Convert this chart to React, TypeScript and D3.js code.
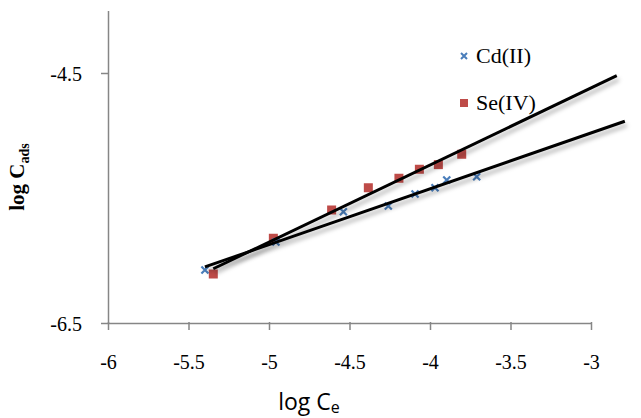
import React, { useEffect, useRef } from "react";
import * as d3 from "d3";

const W = 641;
const H = 418;
const MARGIN = { top: 10.5, right: 50, bottom: 95, left: 108 };
const SERIF = "'Liberation Serif', 'Times New Roman', serif";

// Cd(II) measurements
const cdX = [-5.398, -4.957, -4.538, -4.259, -4.093, -3.969, -3.896, -3.71];
const cdY = [-6.076, -5.852, -5.61, -5.564, -5.468, -5.418, -5.356, -5.33];
// Se(IV) measurements
const seX = [-5.346, -4.973, -4.611, -4.383, -4.193, -4.066, -3.948, -3.803];
const seY = [-6.108, -5.822, -5.596, -5.418, -5.342, -5.27, -5.233, -5.15];

const xTicks = [-6, -5.5, -5, -4.5, -4, -3.5, -3];
const yTicks = [-6.5, -4.5];
// trendline forward forecast end
const cdTrendEnd = -2.79;
const seTrendEnd = -2.84;

const BLUE = "#4a7ebb";
const RED = "#be4b48";
const AXIS = "#868686";

function fit(xs: number[], ys: number[]) {
  const mx = d3.mean(xs) as number;
  const my = d3.mean(ys) as number;
  const sxy = d3.sum(xs, (x, i) => (x - mx) * (ys[i] - my));
  const sxx = d3.sum(xs, (x) => (x - mx) * (x - mx));
  const b = sxy / sxx;
  return (x: number) => my + b * (x - mx);
}

export default function App() {
  const svgRef = useRef<SVGSVGElement>(null);

  useEffect(() => {
    document.body.style.margin = "0";
    const svg = d3.select(svgRef.current);
    svg.selectAll("*").remove();

    const x = d3.scaleLinear().domain([-6, -3]).range([MARGIN.left, 591]);
    const y = d3.scaleLinear().domain([-6.5, -4]).range([323, MARGIN.top]);

    const defs = svg.append("defs");
    const f = defs
      .append("filter")
      .attr("id", "shadow")
      .attr("x", "-20%")
      .attr("y", "-50%")
      .attr("width", "140%")
      .attr("height", "200%");
    f.append("feDropShadow")
      .attr("dx", 2)
      .attr("dy", 4)
      .attr("stdDeviation", 2)
      .attr("flood-color", "#000")
      .attr("flood-opacity", 0.3);

    // Axes
    const gx = svg.append("g").attr("transform", `translate(0,${y(-6.5)})`);
    gx.call(d3.axisBottom(x).tickValues(xTicks).tickSize(7).tickSizeOuter(0).tickFormat((d) => `${d}`));
    gx.attr("font-family", SERIF).attr("font-size", 20);
    gx.select(".domain").attr("stroke", AXIS).attr("stroke-width", 1.5);
    gx.selectAll(".tick line").attr("stroke", AXIS).attr("stroke-width", 1.5).attr("y1", -1);
    gx.selectAll(".tick text").attr("fill", "#000").attr("dy", 0).attr("y", 46);

    const gy = svg.append("g").attr("transform", `translate(${x(-6)},0)`);
    gy.call(d3.axisLeft(y).tickValues(yTicks).tickSize(7).tickSizeOuter(0).tickFormat((d) => `${d}`));
    gy.attr("font-family", SERIF).attr("font-size", 20);
    gy.select(".domain").attr("stroke", AXIS).attr("stroke-width", 1.5);
    gy.selectAll(".tick line").attr("stroke", AXIS).attr("stroke-width", 1.5).attr("x2", -7);
    gy.selectAll(".tick text").attr("fill", "#000").attr("x", -26).attr("dy", "0.35em");

    // Se markers
    svg
      .append("g")
      .selectAll("rect")
      .data(seX)
      .join("rect")
      .attr("x", (d) => x(d) - 4.5)
      .attr("y", (d, i) => y(seY[i]) - 4.5)
      .attr("width", 9)
      .attr("height", 9)
      .attr("fill", RED);

    // Cd markers
    const cross = "M-3.5,-3.5L3.5,3.5M-3.5,3.5L3.5,-3.5";
    svg
      .append("g")
      .selectAll("path")
      .data(cdX)
      .join("path")
      .attr("transform", (d, i) => `translate(${x(d)},${y(cdY[i])})`)
      .attr("d", cross)
      .attr("stroke", BLUE)
      .attr("stroke-width", 2.2)
      .attr("fill", "none");

    // Trendlines
    const drawTrend = (xs: number[], ys: number[], end: number) => {
      const fn = fit(xs, ys);
      const x0 = d3.min(xs) as number;
      svg
        .append("path")
        .attr("d", d3.line<number>().x((d) => x(d)).y((d) => y(fn(d)))([x0, end]))
        .attr("stroke", "#000")
        .attr("stroke-width", 3)
        .attr("fill", "none")
        .attr("filter", "url(#shadow)");
    };
    drawTrend(cdX, cdY, cdTrendEnd);
    drawTrend(seX, seY, seTrendEnd);

    // Legend
    const lg = svg.append("g").style("font-family", SERIF);
    lg.append("path")
      .attr("transform", "translate(464,56)")
      .attr("d", "M-3,-3L3,3M-3,3L3,-3")
      .attr("stroke", BLUE)
      .attr("stroke-width", 2);
    lg.append("text").attr("x", 476).attr("y", 63).style("font-size", "22px").text("Cd(II)");
    lg.append("rect").attr("x", 460).attr("y", 99).attr("width", 8).attr("height", 8).attr("fill", RED);
    lg.append("text").attr("x", 476).attr("y", 110).style("font-size", "22px").text("Se(IV)");

    // Axis titles
    const yt = svg
      .append("text")
      .attr("transform", `translate(24,177) rotate(-90)`)
      .attr("text-anchor", "middle")
      .style("font-family", SERIF)
      .style("font-weight", "bold")
      .style("font-size", "21px");
    yt.append("tspan").text("log C");
    yt.append("tspan").attr("dy", 5).style("font-size", "14px").text("ads");

    const xt = svg
      .append("text")
      .attr("x", 309)
      .attr("y", 410)
      .attr("text-anchor", "middle")
      .style("font-family", "'Open Sans', 'Noto Sans', sans-serif")
      .style("font-size", "23px");
    xt.append("tspan").text("log C");
    xt.append("tspan").attr("dy", 3).style("font-size", "16px").text("e");
  }, []);

  return <svg ref={svgRef} width={W} height={H} style={{ display: "block", background: "#fff" }} />;
}
